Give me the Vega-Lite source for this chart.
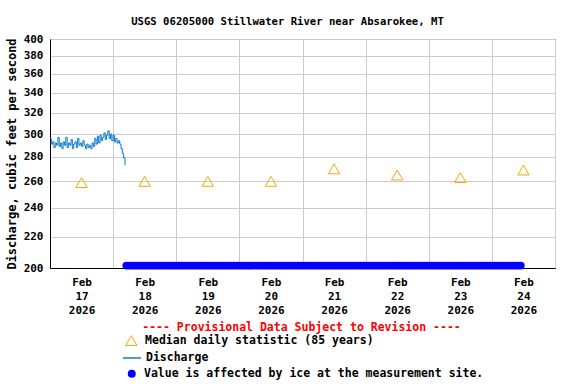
{
  "$schema": "https://vega.github.io/schema/vega-lite/v6.json",
  "width": 505,
  "height": 229,
  "autosize": {"type": "none"},
  "padding": {"left": 50, "top": 39, "right": 21, "bottom": 116},
  "background": "white",
  "config": {
    "font": "DejaVu Sans Mono",
    "view": {"stroke": "black", "strokeWidth": 1},
    "axis": {
      "labelFont": "DejaVu Sans Mono",
      "labelFontWeight": "bold",
      "labelFontSize": 11,
      "labelColor": "black",
      "titleFont": "DejaVu Sans Mono",
      "titleFontWeight": "bold",
      "titleColor": "black",
      "domainColor": "black",
      "gridColor": "#cccccc",
      "gridWidth": 1,
      "ticks": false
    },
    "legend": {
      "labelFont": "DejaVu Sans Mono",
      "labelFontWeight": "bold",
      "labelFontSize": 11.5,
      "labelColor": "black",
      "labelLimit": 1000,
      "orient": "none",
      "direction": "vertical"
    }
  },
  "title": {
    "text": "USGS 06205000 Stillwater River near Absarokee, MT",
    "font": "DejaVu Sans Mono",
    "fontSize": 10.6,
    "fontWeight": "bold",
    "color": "black",
    "anchor": "middle",
    "baseline": "bottom",
    "dx": -15,
    "offset": -5
  },
  "resolve": {"scale": {"shape": "independent"}, "legend": {"shape": "independent"}},
  "datasets": {
    "discharge": [
      {"t": "2026-02-17T00:00", "q": 296}, {"t": "2026-02-17T00:30", "q": 291},
      {"t": "2026-02-17T01:00", "q": 293}, {"t": "2026-02-17T01:30", "q": 288},
      {"t": "2026-02-17T02:00", "q": 292}, {"t": "2026-02-17T02:30", "q": 290},
      {"t": "2026-02-17T03:00", "q": 297}, {"t": "2026-02-17T03:30", "q": 289},
      {"t": "2026-02-17T04:00", "q": 292}, {"t": "2026-02-17T04:30", "q": 287},
      {"t": "2026-02-17T05:00", "q": 293}, {"t": "2026-02-17T05:30", "q": 290},
      {"t": "2026-02-17T06:00", "q": 297}, {"t": "2026-02-17T06:30", "q": 288},
      {"t": "2026-02-17T07:00", "q": 292}, {"t": "2026-02-17T07:30", "q": 290},
      {"t": "2026-02-17T08:00", "q": 295}, {"t": "2026-02-17T08:30", "q": 287},
      {"t": "2026-02-17T09:00", "q": 291}, {"t": "2026-02-17T09:30", "q": 293},
      {"t": "2026-02-17T10:00", "q": 288}, {"t": "2026-02-17T10:30", "q": 296},
      {"t": "2026-02-17T11:00", "q": 290}, {"t": "2026-02-17T11:30", "q": 292},
      {"t": "2026-02-17T12:00", "q": 289}, {"t": "2026-02-17T12:30", "q": 294},
      {"t": "2026-02-17T13:00", "q": 290}, {"t": "2026-02-17T13:30", "q": 287},
      {"t": "2026-02-17T14:00", "q": 291}, {"t": "2026-02-17T14:30", "q": 288},
      {"t": "2026-02-17T15:00", "q": 290}, {"t": "2026-02-17T15:30", "q": 287},
      {"t": "2026-02-17T16:00", "q": 292}, {"t": "2026-02-17T16:30", "q": 289},
      {"t": "2026-02-17T17:00", "q": 296}, {"t": "2026-02-17T17:30", "q": 291},
      {"t": "2026-02-17T18:00", "q": 298}, {"t": "2026-02-17T18:30", "q": 292},
      {"t": "2026-02-17T19:00", "q": 299}, {"t": "2026-02-17T19:30", "q": 294},
      {"t": "2026-02-17T20:00", "q": 297}, {"t": "2026-02-17T20:30", "q": 301},
      {"t": "2026-02-17T21:00", "q": 295}, {"t": "2026-02-17T21:30", "q": 299},
      {"t": "2026-02-17T22:00", "q": 303}, {"t": "2026-02-17T22:30", "q": 296},
      {"t": "2026-02-17T23:00", "q": 300}, {"t": "2026-02-17T23:30", "q": 294},
      {"t": "2026-02-18T00:00", "q": 299}, {"t": "2026-02-18T00:30", "q": 293},
      {"t": "2026-02-18T01:00", "q": 296}, {"t": "2026-02-18T01:30", "q": 292},
      {"t": "2026-02-18T02:00", "q": 294}, {"t": "2026-02-18T02:30", "q": 291},
      {"t": "2026-02-18T03:00", "q": 287}, {"t": "2026-02-18T03:30", "q": 283},
      {"t": "2026-02-18T04:00", "q": 279}, {"t": "2026-02-18T04:30", "q": 273}
    ],
    "median": [
      {"t": "2026-02-17T12:00", "q": 259}, {"t": "2026-02-18T12:00", "q": 260},
      {"t": "2026-02-19T12:00", "q": 260}, {"t": "2026-02-20T12:00", "q": 260},
      {"t": "2026-02-21T12:00", "q": 270}, {"t": "2026-02-22T12:00", "q": 265},
      {"t": "2026-02-23T12:00", "q": 263}, {"t": "2026-02-24T12:00", "q": 269}
    ],
    "ice": [
      {"t":"2026-02-18T05:00","q":201.5},{"t":"2026-02-18T06:00","q":201.5},{"t":"2026-02-18T07:00","q":201.5},{"t":"2026-02-18T08:00","q":201.5},{"t":"2026-02-18T09:00","q":201.5},{"t":"2026-02-18T10:00","q":201.5},{"t":"2026-02-18T11:00","q":201.5},{"t":"2026-02-18T12:00","q":201.5},{"t":"2026-02-18T13:00","q":201.5},{"t":"2026-02-18T14:00","q":201.5},{"t":"2026-02-18T15:00","q":201.5},{"t":"2026-02-18T16:00","q":201.5},{"t":"2026-02-18T17:00","q":201.5},{"t":"2026-02-18T18:00","q":201.5},{"t":"2026-02-18T19:00","q":201.5},{"t":"2026-02-18T20:00","q":201.5},{"t":"2026-02-18T21:00","q":201.5},{"t":"2026-02-18T22:00","q":201.5},{"t":"2026-02-18T23:00","q":201.5},
      {"t":"2026-02-19T00:00","q":201.5},{"t":"2026-02-19T01:00","q":201.5},{"t":"2026-02-19T02:00","q":201.5},{"t":"2026-02-19T03:00","q":201.5},{"t":"2026-02-19T04:00","q":201.5},{"t":"2026-02-19T05:00","q":201.5},{"t":"2026-02-19T06:00","q":201.5},{"t":"2026-02-19T07:00","q":201.5},{"t":"2026-02-19T08:00","q":201.5},{"t":"2026-02-19T09:00","q":201.5},{"t":"2026-02-19T10:00","q":201.5},{"t":"2026-02-19T11:00","q":201.5},{"t":"2026-02-19T12:00","q":201.5},{"t":"2026-02-19T13:00","q":201.5},{"t":"2026-02-19T14:00","q":201.5},{"t":"2026-02-19T15:00","q":201.5},{"t":"2026-02-19T16:00","q":201.5},{"t":"2026-02-19T17:00","q":201.5},{"t":"2026-02-19T18:00","q":201.5},{"t":"2026-02-19T19:00","q":201.5},{"t":"2026-02-19T20:00","q":201.5},{"t":"2026-02-19T21:00","q":201.5},{"t":"2026-02-19T22:00","q":201.5},{"t":"2026-02-19T23:00","q":201.5},
      {"t":"2026-02-20T00:00","q":201.5},{"t":"2026-02-20T01:00","q":201.5},{"t":"2026-02-20T02:00","q":201.5},{"t":"2026-02-20T03:00","q":201.5},{"t":"2026-02-20T04:00","q":201.5},{"t":"2026-02-20T05:00","q":201.5},{"t":"2026-02-20T06:00","q":201.5},{"t":"2026-02-20T07:00","q":201.5},{"t":"2026-02-20T08:00","q":201.5},{"t":"2026-02-20T09:00","q":201.5},{"t":"2026-02-20T10:00","q":201.5},{"t":"2026-02-20T11:00","q":201.5},{"t":"2026-02-20T12:00","q":201.5},{"t":"2026-02-20T13:00","q":201.5},{"t":"2026-02-20T14:00","q":201.5},{"t":"2026-02-20T15:00","q":201.5},{"t":"2026-02-20T16:00","q":201.5},{"t":"2026-02-20T17:00","q":201.5},{"t":"2026-02-20T18:00","q":201.5},{"t":"2026-02-20T19:00","q":201.5},{"t":"2026-02-20T20:00","q":201.5},{"t":"2026-02-20T21:00","q":201.5},{"t":"2026-02-20T22:00","q":201.5},{"t":"2026-02-20T23:00","q":201.5},
      {"t":"2026-02-21T00:00","q":201.5},{"t":"2026-02-21T01:00","q":201.5},{"t":"2026-02-21T02:00","q":201.5},{"t":"2026-02-21T03:00","q":201.5},{"t":"2026-02-21T04:00","q":201.5},{"t":"2026-02-21T05:00","q":201.5},{"t":"2026-02-21T06:00","q":201.5},{"t":"2026-02-21T07:00","q":201.5},{"t":"2026-02-21T08:00","q":201.5},{"t":"2026-02-21T09:00","q":201.5},{"t":"2026-02-21T10:00","q":201.5},{"t":"2026-02-21T11:00","q":201.5},{"t":"2026-02-21T12:00","q":201.5},{"t":"2026-02-21T13:00","q":201.5},{"t":"2026-02-21T14:00","q":201.5},{"t":"2026-02-21T15:00","q":201.5},{"t":"2026-02-21T16:00","q":201.5},{"t":"2026-02-21T17:00","q":201.5},{"t":"2026-02-21T18:00","q":201.5},{"t":"2026-02-21T19:00","q":201.5},{"t":"2026-02-21T20:00","q":201.5},{"t":"2026-02-21T21:00","q":201.5},{"t":"2026-02-21T22:00","q":201.5},{"t":"2026-02-21T23:00","q":201.5},
      {"t":"2026-02-22T00:00","q":201.5},{"t":"2026-02-22T01:00","q":201.5},{"t":"2026-02-22T02:00","q":201.5},{"t":"2026-02-22T03:00","q":201.5},{"t":"2026-02-22T04:00","q":201.5},{"t":"2026-02-22T05:00","q":201.5},{"t":"2026-02-22T06:00","q":201.5},{"t":"2026-02-22T07:00","q":201.5},{"t":"2026-02-22T08:00","q":201.5},{"t":"2026-02-22T09:00","q":201.5},{"t":"2026-02-22T10:00","q":201.5},{"t":"2026-02-22T11:00","q":201.5},{"t":"2026-02-22T12:00","q":201.5},{"t":"2026-02-22T13:00","q":201.5},{"t":"2026-02-22T14:00","q":201.5},{"t":"2026-02-22T15:00","q":201.5},{"t":"2026-02-22T16:00","q":201.5},{"t":"2026-02-22T17:00","q":201.5},{"t":"2026-02-22T18:00","q":201.5},{"t":"2026-02-22T19:00","q":201.5},{"t":"2026-02-22T20:00","q":201.5},{"t":"2026-02-22T21:00","q":201.5},{"t":"2026-02-22T22:00","q":201.5},{"t":"2026-02-22T23:00","q":201.5},
      {"t":"2026-02-23T00:00","q":201.5},{"t":"2026-02-23T01:00","q":201.5},{"t":"2026-02-23T02:00","q":201.5},{"t":"2026-02-23T03:00","q":201.5},{"t":"2026-02-23T04:00","q":201.5},{"t":"2026-02-23T05:00","q":201.5},{"t":"2026-02-23T06:00","q":201.5},{"t":"2026-02-23T07:00","q":201.5},{"t":"2026-02-23T08:00","q":201.5},{"t":"2026-02-23T09:00","q":201.5},{"t":"2026-02-23T10:00","q":201.5},{"t":"2026-02-23T11:00","q":201.5},{"t":"2026-02-23T12:00","q":201.5},{"t":"2026-02-23T13:00","q":201.5},{"t":"2026-02-23T14:00","q":201.5},{"t":"2026-02-23T15:00","q":201.5},{"t":"2026-02-23T16:00","q":201.5},{"t":"2026-02-23T17:00","q":201.5},{"t":"2026-02-23T18:00","q":201.5},{"t":"2026-02-23T19:00","q":201.5},{"t":"2026-02-23T20:00","q":201.5},{"t":"2026-02-23T21:00","q":201.5},{"t":"2026-02-23T22:00","q":201.5},{"t":"2026-02-23T23:00","q":201.5},
      {"t":"2026-02-24T00:00","q":201.5},{"t":"2026-02-24T01:00","q":201.5},{"t":"2026-02-24T02:00","q":201.5},{"t":"2026-02-24T03:00","q":201.5},{"t":"2026-02-24T04:00","q":201.5},{"t":"2026-02-24T05:00","q":201.5},{"t":"2026-02-24T06:00","q":201.5},{"t":"2026-02-24T07:00","q":201.5},{"t":"2026-02-24T08:00","q":201.5},{"t":"2026-02-24T09:00","q":201.5},{"t":"2026-02-24T10:00","q":201.5},{"t":"2026-02-24T11:00","q":201.5}
    ]
  },
  "encoding": {
    "x": {
      "field": "t",
      "type": "temporal",
      "scale": {
        "domain": [
          {"year": 2026, "month": 2, "date": 17, "hours": 0},
          {"year": 2026, "month": 2, "date": 25, "hours": 0}
        ]
      },
      "axis": {
        "title": "---- Provisional Data Subject to Revision ----",
        "titleColor": "red",
        "titleFontSize": 11.5,
        "titleX": 251,
        "titleY": 59,
        "titleAlign": "center",
        "titleBaseline": "middle",
        "values": [
          {"year": 2026, "month": 2, "date": 17, "hours": 0}, {"year": 2026, "month": 2, "date": 17, "hours": 12},
          {"year": 2026, "month": 2, "date": 18, "hours": 0}, {"year": 2026, "month": 2, "date": 18, "hours": 12},
          {"year": 2026, "month": 2, "date": 19, "hours": 0}, {"year": 2026, "month": 2, "date": 19, "hours": 12},
          {"year": 2026, "month": 2, "date": 20, "hours": 0}, {"year": 2026, "month": 2, "date": 20, "hours": 12},
          {"year": 2026, "month": 2, "date": 21, "hours": 0}, {"year": 2026, "month": 2, "date": 21, "hours": 12},
          {"year": 2026, "month": 2, "date": 22, "hours": 0}, {"year": 2026, "month": 2, "date": 22, "hours": 12},
          {"year": 2026, "month": 2, "date": 23, "hours": 0}, {"year": 2026, "month": 2, "date": 23, "hours": 12},
          {"year": 2026, "month": 2, "date": 24, "hours": 0}, {"year": 2026, "month": 2, "date": 24, "hours": 12},
          {"year": 2026, "month": 2, "date": 25, "hours": 0}
        ],
        "labelExpr": "hours(datum.value) == 12 ? [timeFormat(datum.value, '%b'), timeFormat(datum.value, '%d'), timeFormat(datum.value, '%Y')] : ''",
        "labelOverlap": false,
        "labelFlush": false,
        "labelBound": false,
        "labelBaseline": "top",
        "labelLineHeight": 14,
        "labelPadding": 8,
        "gridOpacity": {"condition": {"test": "hours(datum.value) == 12", "value": 0}, "value": 1}
      }
    },
    "y": {
      "field": "q",
      "type": "quantitative",
      "scale": {"type": "log", "domain": [200, 400], "nice": false},
      "axis": {
        "title": "Discharge, cubic feet per second",
        "titleFontSize": 12,
        "titlePadding": 5,
        "values": [200, 220, 240, 260, 280, 300, 320, 340, 360, 380, 400],
        "format": "d",
        "labelPadding": 7
      }
    }
  },
  "layer": [
    {
      "data": {"name": "discharge"},
      "mark": {"type": "line", "strokeWidth": 1, "interpolate": "step-after"},
      "encoding": {
        "color": {
          "datum": "Discharge",
          "type": "nominal",
          "scale": {"range": ["#0a78cf"]},
          "legend": {
            "title": null,
            "legendX": 72,
            "legendY": 309,
            "symbolType": "stroke",
            "symbolSize": 324,
            "symbolStrokeWidth": 1.5,
            "symbolStrokeColor": "#0a78cf",
            "labelOffset": 4
          }
        }
      }
    },
    {
      "data": {"name": "median"},
      "mark": {"type": "point", "filled": false, "color": "orange", "strokeWidth": 1, "size": 130, "opacity": 1},
      "encoding": {
        "shape": {
          "datum": "Median daily statistic (85 years)",
          "type": "nominal",
          "scale": {"range": ["triangle-up"]},
          "legend": {
            "title": null,
            "legendX": 74.8,
            "legendY": 295,
            "symbolSize": 130,
            "symbolStrokeWidth": 1,
            "labelOffset": 7.3
          }
        }
      }
    },
    {
      "data": {"name": "ice"},
      "mark": {"type": "point", "filled": true, "color": "blue", "size": 60, "opacity": 1},
      "encoding": {
        "shape": {
          "datum": "Value is affected by ice at the measurement site.",
          "type": "nominal",
          "scale": {"range": ["circle"]},
          "legend": {
            "title": null,
            "legendX": 76,
            "legendY": 329,
            "symbolSize": 64,
            "labelOffset": 6.5
          }
        }
      }
    }
  ]
}
